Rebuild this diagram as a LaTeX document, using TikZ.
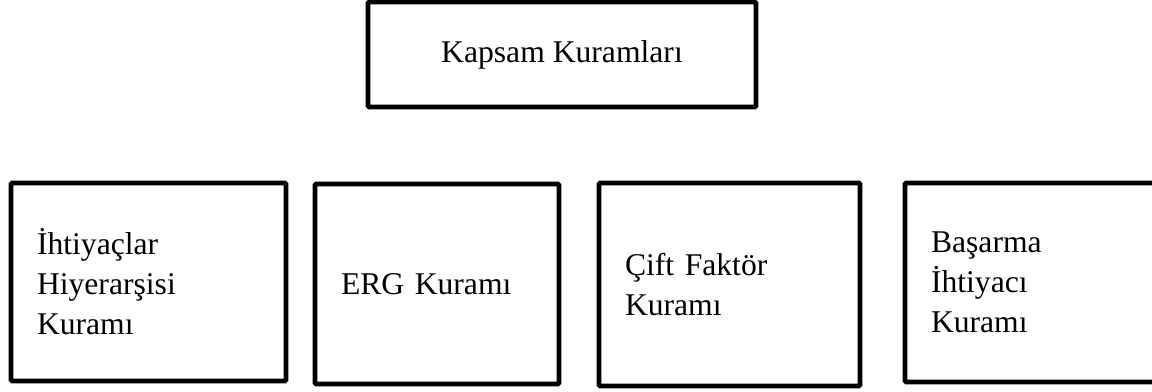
\documentclass[tikz,border=0pt]{standalone}
\usepackage{fontspec}
\setmainfont{Liberation Serif}
\usepackage{tikz}

\begin{document}
\begin{tikzpicture}[
        kuram/.style={draw=black, line width=2.8pt, rounded corners=0.8pt, align=left,
                      inner xsep=0.52cm, font=\fontsize{18}{22.8}\selectfont}
    ]
            \useasboundingbox                                                                 (0.00, 0.00) rectangle (23.04, 7.82);
            \node[kuram, align=center, minimum width=7.76cm, minimum height=2.10cm] (kapsam)   at (11.24, 6.73) {Kapsam Kuramları};
            \node[kuram, text width=4.46cm, minimum height=3.96cm]                   (maslow)   at ( 2.97, 2.18) {İhtiyaçlar\\Hiyerarşisi\\Kuramı};
            \node[kuram, text width=3.84cm, minimum height=4.00cm]                   (erg)      at ( 8.74, 2.14) {ERG Kuramı};
            \node[kuram, text width=4.18cm, minimum height=4.06cm]                   (ciftfak)  at (14.59, 2.13) {Çift Faktör\\Kuramı};
            \node[kuram, text width=4.02cm, minimum height=3.98cm]                   (basarma)  at (20.63, 2.17) {Başarma\\İhtiyacı\\Kuramı};
        \end{tikzpicture}
\end{document}
